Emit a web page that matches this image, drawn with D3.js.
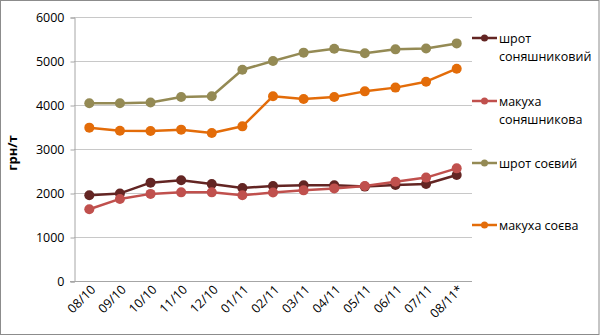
<!DOCTYPE html>
<html>
<head>
<meta charset="utf-8">
<script src="https://cdn.jsdelivr.net/npm/d3@7"></script>
<style>
  html, body { margin: 0; padding: 0; background: #fff; }
  svg { display: block; }
  text { font-family: "Open Sans", sans-serif; fill: #000; }
</style>
</head>
<body>
<svg id="chart" width="600" height="336"></svg>
<script>
// Month labels (mm/yy)
const months = ["08/10","09/10","10/10","11/10","12/10","01/11","02/11","03/11","04/11","05/11","06/11","07/11","08/11*"];

// Prices, UAH per tonne
const sunflowerMeal = [1950, 1990, 2235, 2290, 2205, 2115, 2160, 2175, 2175, 2145, 2180, 2205, 2410];
const sunflowerCake = [1630, 1865, 1980, 2015, 2015, 1950, 2010, 2060, 2105, 2160, 2255, 2350, 2560];
const soyMeal       = [4040, 4040, 4055, 4180, 4200, 4800, 5000, 5190, 5280, 5175, 5265, 5285, 5400];
const soyCake       = [3485, 3415, 3410, 3440, 3365, 3515, 4200, 4135, 4180, 4310, 4395, 4530, 4825];

const seriesNames  = ["шрот\nсоняшниковий", "макуха\nсоняшникова", "шрот соєвий", "макуха соєва"];
const seriesColors = ["#632523", "#C0504D", "#948A54", "#E36C09"];
const seriesValues = [sunflowerMeal, sunflowerCake, soyMeal, soyCake];

const yTicks = [0, 1000, 2000, 3000, 4000, 5000, 6000];
const yLabel = "грн/т";

const svg = d3.select("#chart");
const W = 600, H = 336;

// outer frame
svg.append("rect")
  .attr("x", 0.5).attr("y", 0.5).attr("width", W - 1.5).attr("height", H - 2)
  .attr("fill", "#fff").attr("stroke", "#8c8c8c").attr("stroke-width", 1);

const plot = { left: 74, right: 472, top: 17, bottom: 281 };

const x = d3.scaleBand().domain(months).range([plot.left, plot.right]);
const y = d3.scaleLinear().domain([0, 6000]).range([plot.bottom, plot.top]);

// horizontal gridlines
svg.append("g").selectAll("line").data(yTicks.filter(d => d > 0)).join("line")
  .attr("x1", plot.left).attr("x2", plot.right)
  .attr("y1", d => Math.round(y(d)) + 0.5).attr("y2", d => Math.round(y(d)) + 0.5)
  .attr("stroke", "#c8c8c8").attr("stroke-width", 1);

// y axis
const yAxis = svg.append("g")
  .attr("transform", `translate(${plot.left + 0.5},0.5)`)
  .call(d3.axisLeft(y).tickValues(yTicks).tickSize(4).tickPadding(6).tickFormat(d3.format("d")));
yAxis.select(".domain").attr("stroke", "#a6a6a6");
yAxis.selectAll(".tick line").attr("stroke", "#a6a6a6");
yAxis.selectAll(".tick text").attr("font-size", 12.5).attr("font-family", "Open Sans, sans-serif").attr("fill", "#000");

// x axis
const xAxis = svg.append("g")
  .attr("transform", `translate(0,${plot.bottom + 0.5})`)
  .call(d3.axisBottom(x).tickSize(0).tickPadding(0));
xAxis.select(".domain").attr("stroke", "#a6a6a6").attr("d", `M${plot.left - 4},0H${plot.right}`);
xAxis.selectAll(".tick text")
  .attr("font-size", 12.5).attr("font-family", "Open Sans, sans-serif").attr("fill", "#000")
  .attr("text-anchor", "end")
  .attr("dy", null).attr("y", 0)
  .attr("transform", "translate(7,9) rotate(-45)");

// y axis title
svg.append("text")
  .attr("transform", `translate(17,${(plot.top + plot.bottom) / 2 + 4}) rotate(-90)`)
  .attr("text-anchor", "middle")
  .attr("font-size", 13).attr("font-weight", "bold")
  .text(yLabel);

// series lines and markers
const line = d3.line().x((d, i) => x(months[i]) + x.bandwidth() / 2).y(d => y(d));
seriesValues.forEach((vals, s) => {
  const g = svg.append("g");
  g.append("path").datum(vals).attr("d", line)
    .attr("fill", "none").attr("stroke", seriesColors[s]).attr("stroke-width", 2.5)
    .attr("stroke-linejoin", "round");
  g.selectAll("circle").data(vals).join("circle")
    .attr("cx", (d, i) => x(months[i]) + x.bandwidth() / 2)
    .attr("cy", d => y(d))
    .attr("r", 5)
    .attr("fill", seriesColors[s]);
});

// legend
const legendY = [38, 101, 163, 225];
const lg = svg.append("g");
seriesNames.forEach((name, s) => {
  const row = lg.append("g").attr("transform", `translate(472,${legendY[s]})`);
  row.append("line").attr("x1", 0).attr("x2", 25).attr("y1", 0).attr("y2", 0)
    .attr("stroke", seriesColors[s]).attr("stroke-width", 2.5);
  row.append("circle").attr("cx", 12.5).attr("cy", 0).attr("r", 3.5).attr("fill", seriesColors[s]);
  const t = row.append("text").attr("x", 27).attr("y", 4.5).attr("font-size", 12.5);
  name.split("\n").forEach((ln, k) => {
    t.append("tspan").attr("x", 27).attr("dy", k === 0 ? 0 : 18).text(ln);
  });
});
</script>
</body>
</html>
